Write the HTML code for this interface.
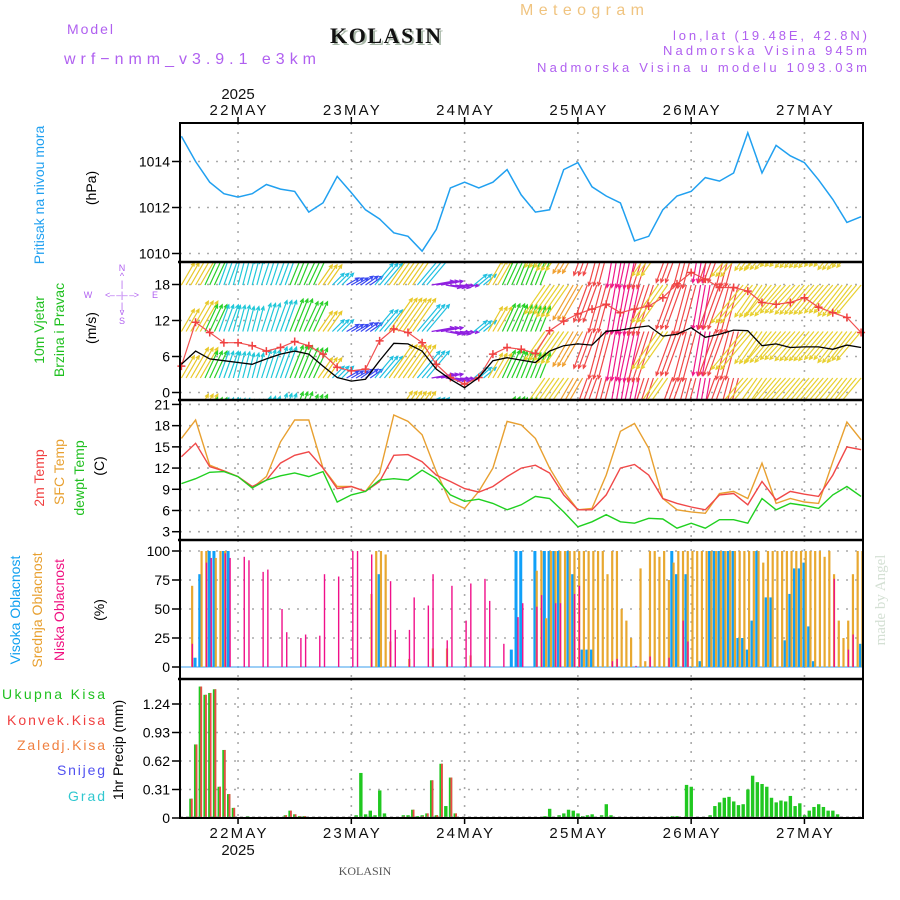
<!DOCTYPE html>
<html><head><meta charset="utf-8">
<style>
html,body{margin:0;padding:0;background:#fff;}
svg{display:block;font-family:"Liberation Sans",sans-serif;}
</style></head>
<body>
<svg id="chart" width="900" height="900" viewBox="0 0 900 900" xmlns="http://www.w3.org/2000/svg">
<rect x="0" y="0" width="900" height="900" fill="#fff"/>
<g>
<text x="67" y="34" fill="#b060f0" font-size="14" textLength="46">Model</text>
<text x="64" y="64" fill="#b060f0" font-size="16" textLength="252">wrf−nmm_v3.9.1 e3km</text>
<text x="332" y="45" fill="#a8b8a8" font-size="22" font-weight="bold" font-family="Liberation Serif, serif" textLength="111">KOLASIN</text>
<text x="330" y="43" fill="#111" font-size="22" font-weight="bold" font-family="Liberation Serif, serif" textLength="111">KOLASIN</text>
<text x="520" y="15" fill="#f0c480" font-size="16" textLength="124">Meteogram</text>
<text x="867" y="40" fill="#b060f0" font-size="13" text-anchor="end" textLength="194">lon,lat (19.48E, 42.8N)</text>
<text x="867" y="55" fill="#b060f0" font-size="13" text-anchor="end" textLength="204">Nadmorska Visina 945m</text>
<text x="867" y="72" fill="#b060f0" font-size="13" text-anchor="end" textLength="330">Nadmorska Visina u modelu 1093.03m</text>
</g>
<g font-size="14">
<text transform="translate(44,195) rotate(-90)" text-anchor="middle" fill="#20a0f0">Pritisak na nivou mora</text>
<text transform="translate(96,188) rotate(-90)" text-anchor="middle" fill="#000">(hPa)</text>
<text transform="translate(44,330) rotate(-90)" text-anchor="middle" fill="#20c020">10m Vjetar</text>
<text transform="translate(64,330) rotate(-90)" text-anchor="middle" fill="#20c020">Brzina i Pravac</text>
<text transform="translate(96,328) rotate(-90)" text-anchor="middle" fill="#000">(m/s)</text>
<g fill="#b060f0" font-size="9" text-anchor="middle">
<text x="88" y="298">W</text><text x="122" y="298" textLength="34">&lt;– –|– –&gt;</text><text x="155" y="298">E</text>
<text x="122" y="271">N</text><text x="122" y="279">^</text><text x="122" y="287">|</text><text x="122" y="309">|</text><text x="122" y="315">v</text><text x="122" y="324">S</text>
</g>
<text transform="translate(44,478) rotate(-90)" text-anchor="middle" fill="#f04040">2m Temp</text>
<text transform="translate(64,472) rotate(-90)" text-anchor="middle" fill="#e8a030">SFC Temp</text>
<text transform="translate(84,478) rotate(-90)" text-anchor="middle" fill="#20c020">dewpt Temp</text>
<text transform="translate(104,466) rotate(-90)" text-anchor="middle" fill="#000">(C)</text>
<text transform="translate(20,610) rotate(-90)" text-anchor="middle" fill="#10a0f0">Visoka Oblacnost</text>
<text transform="translate(42,610) rotate(-90)" text-anchor="middle" fill="#e8a030">Srednja Oblacnost</text>
<text transform="translate(64,610) rotate(-90)" text-anchor="middle" fill="#f01080">Niska Oblacnost</text>
<text transform="translate(104,610) rotate(-90)" text-anchor="middle" fill="#000">(%)</text>
<text x="2" y="699" fill="#20c020" textLength="103">Ukupna  Kisa</text>
<text x="7" y="725" fill="#f04040" textLength="98">Konvek.Kisa</text>
<text x="17" y="750" fill="#f08040" textLength="88">Zaledj.Kisa</text>
<text x="57" y="775" fill="#5050f0" textLength="48">Snijeg</text>
<text x="68" y="801" fill="#30c8d0" textLength="37">Grad</text>
<text transform="translate(123,750) rotate(-90)" text-anchor="middle" fill="#000">1hr Precip (mm)</text>
<text transform="translate(885,600) rotate(-90)" text-anchor="middle" fill="#d4e0d4" font-size="15" font-family="Liberation Serif, serif">made by Angel</text>
<text x="365" y="875" text-anchor="middle" fill="#555" font-size="12" font-family="Liberation Serif, serif">KOLASIN</text>
</g>
<defs><clipPath id="cpW"><rect x="180" y="263" width="683" height="136"/></clipPath></defs>
<g id="layer"></g>
</svg>
<script>
// ---- data (t = 3-hour steps from 21 May 12 UTC) ----
const dayLabels = ["22MAY","23MAY","24MAY","25MAY","26MAY","27MAY"];
const dayHours = [12,36,60,84,108,132];
const pressure = [1015.1,1014.0,1013.1,1012.6,1012.45,1012.6,1013.0,1012.8,1012.7,1011.8,1012.2,1013.35,1012.65,1011.9,1011.5,1010.9,1010.75,1010.1,1011.05,1012.85,1013.1,1012.85,1013.1,1013.65,1012.55,1011.8,1011.9,1013.65,1013.95,1012.9,1012.5,1012.2,1010.55,1010.75,1011.9,1012.5,1012.7,1013.3,1013.15,1013.5,1015.25,1013.5,1014.7,1014.25,1013.95,1013.2,1012.35,1011.35,1011.6];
const windSpeed = [4.7,6.9,5.6,5.3,5.0,4.7,5.6,6.4,6.9,6.4,4.4,2.5,1.9,2.2,5.3,8.2,8.1,6.9,3.9,2.2,0.8,2.5,5.3,5.8,5.4,5.0,6.9,7.8,8.1,7.9,10.2,10.4,10.8,11.1,9.4,9.7,10.8,9.2,9.7,10.4,10.3,7.8,8.1,7.5,7.6,7.6,7.2,7.9,7.5];
const windGust = [4.4,11.7,10.0,8.3,8.3,7.8,6.9,7.5,8.5,7.8,6.4,4.2,3.6,3.9,8.6,10.6,10.0,8.3,4.7,2.5,1.4,2.5,6.4,7.5,7.2,6.5,10.3,11.9,13.1,13.9,14.7,13.3,13.9,14.4,15.8,18.1,20.0,18.9,17.5,17.5,16.9,15.0,14.7,15.0,15.8,14.2,13.3,12.5,10.0];
const windDirTo = [30,30,25,20,15,15,18,20,22,25,35,45,60,55,40,35,35,40,80,100,95,50,30,25,22,22,215,215,210,200,195,190,192,198,215,200,195,190,200,195,220,215,220,222,220,220,220,218,220];
const temp2m = [13.6,15.5,12.2,11.6,10.8,9.4,10.3,12.7,13.8,14.3,12.0,9.1,9.4,8.7,10.1,13.8,13.9,12.9,11.0,10.1,9.1,8.6,9.4,10.8,12.0,12.4,11.3,8.2,6.1,6.1,8.2,12.0,12.5,11.0,7.7,7.0,6.5,6.1,8.2,8.4,6.8,10.1,7.5,8.7,8.3,8.0,11.0,15.0,14.6];
const tempSfc = [16.2,18.8,12.4,11.6,10.8,9.2,10.8,15.7,18.8,18.8,12.0,9.4,9.4,8.7,11.3,19.5,18.6,16.7,11.5,7.2,6.3,8.7,12.0,18.6,18.1,16.2,12.0,8.7,6.1,6.3,11.0,17.2,18.3,14.8,7.7,6.1,5.8,5.6,8.4,8.7,7.7,12.7,7.0,7.7,7.2,7.0,12.9,18.5,16.0];
const dewpt = [9.8,10.5,11.4,11.5,10.8,9.2,10.3,10.9,11.3,10.8,11.5,7.2,8.2,8.7,10.3,10.5,10.3,11.7,10.5,8.2,7.3,7.6,7.0,6.1,6.8,8.0,7.7,5.8,3.7,4.4,5.4,4.4,4.2,4.9,4.8,3.5,4.2,3.5,4.7,4.7,4.2,7.7,6.1,7.0,6.7,6.3,8.2,9.4,8.0];
// cloud cover (%)
const highHours = [3,4,6,7,9,10,42,70,71,72,75,77,78,79,80,82,83,85,86,87,104,105,107,110,112,113,114,115,116,117,118,119,120,121,122,124,125,128,129,130,131,132,133,134,144];
const highVals = [8,80,100,100,100,100,80,15,100,100,100,100,100,100,100,100,80,15,15,15,100,80,80,5,100,100,100,100,100,100,25,25,15,40,100,60,60,23,63,85,85,90,35,5,20];
const midHourly = [0,0,70,0,100,100,0,94,100,100,
0,0,0,0,0,0,0,0,0,0, 0,0,0,0,0,0,0,0,0,0, 0,0,0,0,0,0,0,0,0,0,
63,100,100,97,22,0,0,0,7,0, 0,0,0,16,0,0,16,0,0,0, 0,10,0,0,0,0,0,0,0,0,
0,0,0,0,0,83,100,42,100,100, 100,100,100,100,100,100,100,100,100,100,
80,100,100,50,40,25,0,85,5,100, 100,95,100,75,90,100,100,100,100,100,
100,100,100,100,100,100,100,100,100,100, 100,100,100,90,100,100,100,100,100,100,
100,100,100,100,100,100,95,100,80,40, 25,40,80,100,100];
const lowHours = [2,5,6,9,10,13,14,17,18,21,22,25,26,29,30,33,36,37,40,44,45,48,49,52,53,56,57,60,61,64,65,68,71,72,75,76,79,80,83,84,91,92,96,99,103,106,107,138,141,142];
const lowVals = [20,90,94,98,94,95,92,82,84,50,30,25,28,27,80,78,100,100,97,74,32,32,60,53,80,23,70,40,72,76,57,20,43,55,52,62,55,55,63,70,5,7,1,9,8,40,22,76,15,28];
// 1-hour precipitation (mm)
const precipHours = [2,3,4,5,6,7,8,9,10,11,14,22,23,24,25,26,37,38,39,40,41,42,43,47,48,49,50,51,52,53,54,55,56,57,58,77,78,80,81,82,83,84,85,86,87,89,90,91,104,105,107,108,112,113,114,115,116,117,118,119,120,121,122,123,124,125,126,127,128,129,130,131,132,133,134,135,136,137,138,139];
const precipTotal = [0.21,0.80,1.43,1.34,1.36,1.40,0.34,0.74,0.26,0.11,0.02,0.03,0.08,0.04,0.02,0.02,0.03,0.49,0.04,0.08,0.03,0.30,0.05,0.03,0.03,0.09,0.02,0.03,0.05,0.41,0.03,0.59,0.13,0.44,0.05,0.02,0.10,0.03,0.05,0.09,0.08,0.05,0.02,0.03,0.04,0.03,0.15,0.03,0.02,0.02,0.36,0.34,0.03,0.13,0.17,0.22,0.23,0.18,0.14,0.15,0.31,0.46,0.39,0.37,0.34,0.22,0.17,0.19,0.18,0.24,0.13,0.16,0.03,0.08,0.12,0.15,0.12,0.08,0.08,0.04];
const precipConv = [0.21,0.80,1.43,1.34,1.36,1.40,0.34,0.74,0.26,0.11,0,0.03,0.08,0.04,0.02,0.02,0,0,0,0,0,0,0,0.02,0,0.09,0,0.02,0.05,0.41,0.03,0.59,0,0.44,0.05,0,0,0,0,0,0,0,0,0,0,0,0,0,0,0,0,0,0,0,0,0,0,0,0,0,0,0,0,0,0,0,0,0,0,0,0,0,0,0,0,0,0,0,0,0];
const pressTicks = [1010,1012,1014];
const windTicks = [0,6,12,18];
const tempTicks = [3,6,9,12,15,18,21];
const cloudTicks = [0,25,50,75,100];
const precipTicks = [0,0.31,0.62,0.93,1.24];

// ---- axes ----
const L=180,R=863;
const xH = h => 181.4 + 4.72*h;
const xT = t => xH(3*t);
const yP = v => 253.5 - (v-1010)*23;
const yW = v => 392.5 - v*6;
const yTm = v => 531.7 - (v-3)*7.07;
const yC = v => 667 - v*1.16;
const yPr = v => 818 - v/0.31*28.5;
const panels = [[123,262],[262,400],[400,540],[540,679],[679,818]];

const NS="http://www.w3.org/2000/svg";
const layer=document.getElementById('layer');
function mk(tag,attrs,parent){const e=document.createElementNS(NS,tag);for(const k in attrs)e.setAttribute(k,attrs[k]);(parent||layer).appendChild(e);return e;}

// grids
const grid=mk('g',{});


const gs={stroke:'#aaa','stroke-width':1.6,'stroke-dasharray':'2,7'};
function hgrid(y){mk('line',Object.assign({x1:L,x2:R,y1:y,y2:y},gs),grid);}
dayHours.forEach(h=>{panels.forEach(p=>mk('line',Object.assign({x1:xH(h),x2:xH(h),y1:p[0],y2:p[1]},gs),grid));});
pressTicks.forEach(v=>hgrid(yP(v)));
windTicks.forEach(v=>hgrid(yW(v)));
tempTicks.forEach(v=>hgrid(yTm(v)));
cloudTicks.forEach(v=>{if(v>0)hgrid(yC(v));});
precipTicks.forEach(v=>{if(v>0)hgrid(yPr(v));});

// tick labels
const tl=mk('g',{'font-size':14,fill:'#000','text-anchor':'end'});


function ytick(y,label){mk('line',{x1:172,x2:L,y1:y,y2:y,stroke:'#000','stroke-width':1.5},tl);const t=mk('text',{x:170,y:y+5},tl);t.textContent=label;}
pressTicks.forEach(v=>ytick(yP(v),v));
windTicks.forEach(v=>ytick(yW(v),v));
tempTicks.forEach(v=>ytick(yTm(v),v));
cloudTicks.forEach(v=>ytick(yC(v),v));
precipTicks.forEach(v=>ytick(yPr(v),v===0?'0':v.toFixed(2)));

// x labels
const xl=mk('g',{'font-size':15,fill:'#111','text-anchor':'middle'});


dayLabels.forEach((d,i)=>{
  const x=xH(dayHours[i]);
  let t=mk('text',{x:x,y:115,textLength:57},xl);t.textContent=d;
  t=mk('text',{x:x,y:838,textLength:57},xl);t.textContent=d;
  mk('line',{x1:x,x2:x,y1:117,y2:123,stroke:'#000','stroke-width':1.5},xl);
  mk('line',{x1:x,x2:x,y1:818,y2:824,stroke:'#000','stroke-width':1.5},xl);
});
{let t=mk('text',{x:xH(dayHours[0]),y:99},xl);t.textContent='2025';t=mk('text',{x:xH(dayHours[0]),y:855},xl);t.textContent='2025';}

// pressure line
function poly(arr,yf,color,w,name,parent){
  const pts=arr.map((v,i)=>xT(i).toFixed(1)+','+yf(v).toFixed(1)).join(' ');
  const p=mk('polyline',{points:pts,fill:'none',stroke:color,'stroke-width':w},parent);
  
  
  return p;
}
poly(pressure,yP,'#20a0f0',1.5,'pressure-line');

// wind arrows
const wg=mk('g',{'clip-path':'url(#cpW)'});


function windColor(a){
  if(a<=20)return '#20c8d8';
  if(a<=28)return '#28d028';
  if(a<=38)return '#e8c828';
  if(a<=50)return '#20c0e0';
  if(a<=70)return '#3848f0';
  if(a<=130)return '#9020e0';
  if(a<=194)return '#f01888';
  if(a<=205)return '#f04848';
  if(a<=212)return '#f0a030';
  return '#e8d030';
}
const bases=[238.5,285,331.5,378,424.5];
for(let h=0;h<=144;h++){
  const i=Math.round(h/3);
  const a=windDirTo[i]*Math.PI/180;
  const len=4.2*windSpeed[i]+6;
  const dx=Math.sin(a)*len, dy=-Math.cos(a)*len;
  const col=windColor(windDirTo[i]);
  const x0=xH(h);
  bases.forEach(b=>{
    const x1=x0+dx,y1=b+dy;
    const ar=mk('path',{d:`M${x0.toFixed(1)},${b} L${x1.toFixed(1)},${y1.toFixed(1)} M${(x1-4*Math.sin(a-0.45)).toFixed(1)},${(y1+4*Math.cos(a-0.45)).toFixed(1)} L${x1.toFixed(1)},${y1.toFixed(1)} L${(x1-4*Math.sin(a+0.45)).toFixed(1)},${(y1+4*Math.cos(a+0.45)).toFixed(1)}`,stroke:col,'stroke-width':1.2,fill:'none'},wg);
    
    
  });
}
// gust line with + markers
poly(windGust,yW,'#f05050',1.2,'wind-gust-line');
const gm=mk('g',{stroke:'#f04040','stroke-width':1.5});


windGust.forEach((v,i)=>{const x=xT(i),y=yW(v);mk('path',{d:`M${x-4},${y} H${x+4} M${x},${y-4} V${y+4}`},gm);});
poly(windSpeed,yW,'#000',1.3,'wind-speed-line');

// temperature
poly(tempSfc,yTm,'#e8a030',1.4,'sfc-temp-line');
poly(temp2m,yTm,'#f04848',1.4,'temp-2m-line');
poly(dewpt,yTm,'#20d020',1.4,'dewpoint-line');

// clouds
const cg=mk('g',{});


mk('line',{x1:L,x2:R,y1:yC(0),y2:yC(0),stroke:'#60b0f0','stroke-width':1.2},cg);
highHours.forEach((h,i)=>{const v=highVals[i];const b=mk('rect',{x:xH(h)-2,y:yC(v),width:3,height:yC(0)-yC(v),fill:'#10a0f8'},cg);});
midHourly.forEach((v,h)=>{if(v<=0)return;const b=mk('rect',{x:xH(h)+0.2,y:yC(v),width:2.2,height:yC(0)-yC(v),fill:'#e8a830'},cg);});
lowHours.forEach((h,i)=>{const v=lowVals[i];const b=mk('rect',{x:xH(h)+0.8,y:yC(v),width:1.4,height:yC(0)-yC(v),fill:'#f0108a'},cg);});

// precip
const pg=mk('g',{});


precipHours.forEach((h,i)=>{
  const v=precipTotal[i],c=precipConv[i];
  const g=mk('rect',{x:xH(h)-1.6,y:yPr(v),width:3.4,height:818-yPr(v),fill:'#20c820'},pg);
  
  
  if(c>0){const r=mk('rect',{x:xH(h),y:yPr(c),width:1.8,height:818-yPr(c),fill:'#f04848'},pg);
  
  }
});
mk('line',{x1:L,x2:R,y1:817,y2:817,stroke:'#888','stroke-width':1,'stroke-dasharray':'3,3'},pg);

// frames
const fr=mk('g',{fill:'none',stroke:'#000','stroke-width':2});


mk('rect',{x:L,y:123,width:R-L,height:818-123},fr);
[262,400,540,679].forEach(y=>mk('line',{x1:L-2,x2:R,y1:y,y2:y,'stroke-width':2.5},fr));
</script>
</body></html>
